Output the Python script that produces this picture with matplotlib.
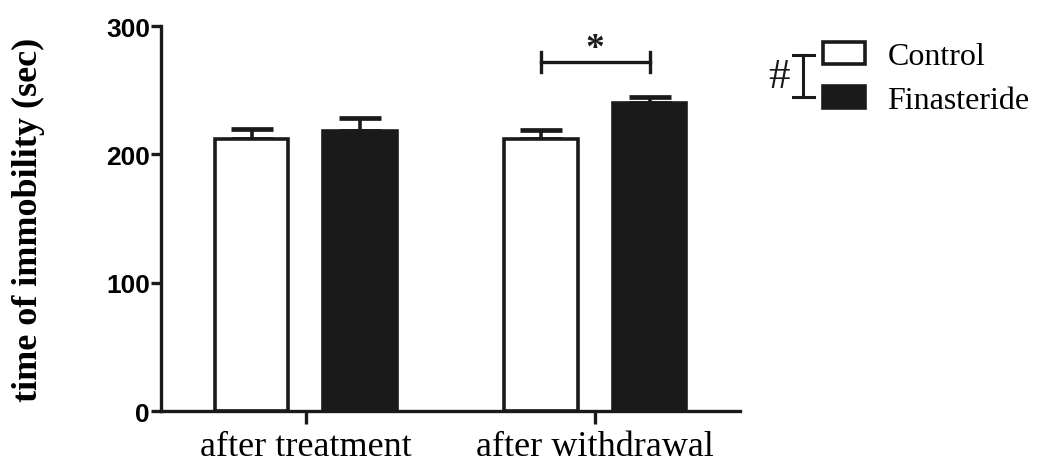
import matplotlib
matplotlib.use("Agg")
import matplotlib.pyplot as plt
import numpy as np
from matplotlib.patches import Patch
from matplotlib.lines import Line2D

groups = ["after treatment", "after withdrawal"]
series = ["Control", "Finasteride"]
means_control = [212, 212]
sem_control = [8, 7]
means_fin = [218, 240]
sem_fin = [10, 5]
yticks = [0, 100, 200, 300]

ink = "#1a1a1a"
serif = "Liberation Serif"
sans = "Liberation Sans"

fig = plt.figure(figsize=(10.37, 4.64), dpi=100)
ax = fig.add_axes([0.1553, 0.112, 0.5583, 0.8298])

x = np.arange(len(groups))
off = 0.1875
w = 0.255

ax.bar(x - off, means_control, w, color="white", edgecolor=ink, linewidth=2.6, zorder=2)
ax.bar(x + off, means_fin, w, color=ink, edgecolor=ink, linewidth=2.6, zorder=2)
ax.errorbar(x - off, means_control, yerr=[np.zeros(2), sem_control], fmt="none",
            ecolor=ink, elinewidth=2.6, capsize=15, capthick=3.4, zorder=1)
ax.errorbar(x + off, means_fin, yerr=[np.zeros(2), sem_fin], fmt="none",
            ecolor=ink, elinewidth=2.6, capsize=15, capthick=3.4, zorder=1)

# significance bracket over "after withdrawal"
ax.plot([1 - off, 1 + off], [272, 272], color=ink, lw=2.4, clip_on=False)
ax.plot([1 - off, 1 - off], [264, 280], color=ink, lw=2.4, clip_on=False)
ax.plot([1 + off, 1 + off], [264, 280], color=ink, lw=2.4, clip_on=False)
ax.text(1, 269, "*", ha="center", va="bottom", fontsize=27, family=serif,
        fontweight="bold", color=ink, clip_on=False)

ax.set_xlim(-0.5, 1.5)
ax.set_ylim(0, 300)
ax.set_xticks(x)
ax.set_xticklabels(groups, family=serif, fontsize=26)
ax.set_yticks(yticks)
ax.set_yticklabels([str(t) for t in yticks], family=sans, fontsize=19, fontweight="bold")
ax.set_ylabel("time of immobility (sec)", family=serif, fontsize=26, fontweight="bold")
ax.yaxis.set_label_coords(-0.2, 0.5)

for s in ["top", "right"]:
    ax.spines[s].set_visible(False)
for s in ["left", "bottom"]:
    ax.spines[s].set_linewidth(2.4)
    ax.spines[s].set_color(ink)
ax.tick_params(axis="both", width=2.4, color=ink, direction="out")
ax.tick_params(axis="y", length=7, pad=1)
ax.tick_params(axis="x", length=9, pad=5)

handles = [Patch(facecolor="white", edgecolor=ink, linewidth=2.6),
           Patch(facecolor=ink, edgecolor=ink, linewidth=2.6)]
leg = fig.legend(handles, series, loc="upper left", bbox_to_anchor=(823 / 1037, 1 - 43 / 464),
                 frameon=False, prop={"family": serif, "size": 23}, handlelength=1.3,
                 handleheight=0.7, handletextpad=0.72, labelspacing=0.45, borderpad=0,
                 borderaxespad=0)

# "#" bracket beside legend
def fpx(px, py):
    return px / 1037, 1 - py / 464

for (x0, y0), (x1, y1) in [((803, 56), (803, 98)), ((793, 56), (814, 56)), ((793, 98), (814, 98))]:
    a, b = fpx(x0, y0)
    c, d = fpx(x1, y1)
    fig.add_artist(Line2D([a, c], [b, d], color=ink, lw=2.2, transform=fig.transFigure))
hx, hy = fpx(779, 78)
fig.text(hx, hy, "#", ha="center", va="center", family=serif, fontsize=31, color=ink)

fig.savefig("out.png", dpi=100)
